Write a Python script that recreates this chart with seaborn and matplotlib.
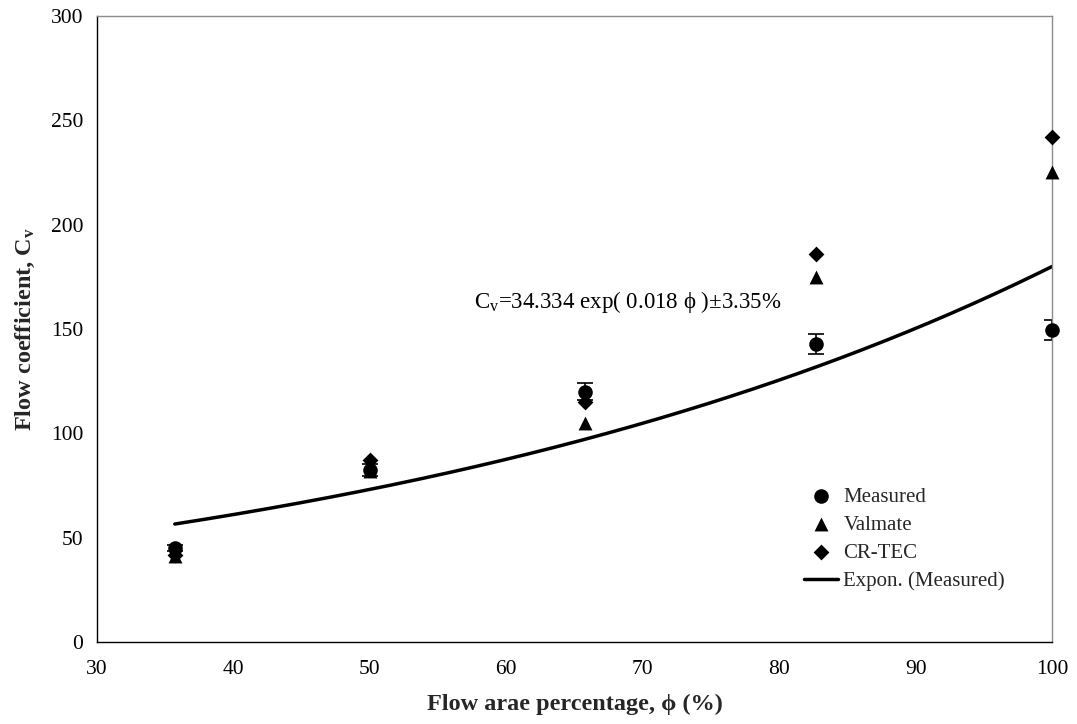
import numpy as np
import pandas as pd
import matplotlib
matplotlib.use("Agg")
import matplotlib.pyplot as plt
import seaborn as sns

# Flow area percentage and flow coefficients for each source
phi = [35.7, 50.0, 65.8, 82.7, 100.0]
measured = [45.0, 82.5, 120.0, 143.0, 149.5]
valmate = [41.0, 82.0, 105.0, 175.0, 225.0]
cr_tec = [41.5, 87.0, 115.0, 186.0, 242.0]
uncertainty_pct = 3.35

x_ticks = [30, 40, 50, 60, 70, 80, 90, 100]
y_ticks = [0, 50, 100, 150, 200, 250, 300]

sns.set_theme(style="white")
plt.rcParams["font.family"] = ["Liberation Serif", "DejaVu Serif"]
plt.rcParams["mathtext.fontset"] = "custom"
plt.rcParams["mathtext.rm"] = "Liberation Serif"
plt.rcParams["mathtext.it"] = "Liberation Serif:italic"
plt.rcParams["mathtext.bf"] = "Liberation Serif:bold"

df = pd.DataFrame({
    "phi": phi * 3,
    "Cv": measured + valmate + cr_tec,
    "source": ["Measured"] * 5 + ["Valmate"] * 5 + ["CR-TEC"] * 5,
})

fig = plt.figure(figsize=(10.77, 7.24), dpi=100)
ax = fig.add_axes([0.0901, 0.1133, 0.8867, 0.8646])

# Error bars on the measured values
meas = np.array(measured)
ax.errorbar(phi, meas, yerr=meas * uncertainty_pct / 100, fmt="none",
            ecolor="black", elinewidth=1.2, capsize=6, capthick=1.2, zorder=2)

# Exponential trend line fitted to the measured data
b, ln_a = np.polyfit(phi, np.log(meas), 1)
xs = np.linspace(min(phi), max(phi), 200)
fit = pd.DataFrame({"phi": xs, "Cv": np.exp(ln_a) * np.exp(b * xs)})

markers = {"Measured": "o", "Valmate": "^", "CR-TEC": "D"}
sizes = {"Measured": 110, "Valmate": 100, "CR-TEC": 65}
for name in ["Measured", "Valmate", "CR-TEC"]:
    sns.scatterplot(data=df[df.source == name], x="phi", y="Cv",
                    marker=markers[name], s=sizes[name], color="black",
                    edgecolor="black", linewidth=0, label=name, ax=ax,
                    zorder=3, clip_on=False)
sns.lineplot(data=fit, x="phi", y="Cv", color="black", linewidth=2.5,
             label="Expon. (Measured)", ax=ax, zorder=2)

ax.set_xlim(30, 100)
ax.set_ylim(0, 300)
ax.set_xticks(x_ticks)
ax.set_yticks(y_ticks)
ax.tick_params(axis="both", labelsize=15.5, direction="out", width=1,
               colors="black")
ax.tick_params(axis="x", length=4, pad=9)
ax.tick_params(axis="y", length=5, pad=5)
for side in ["left", "bottom"]:
    ax.spines[side].set_color("black")
    ax.spines[side].set_linewidth(1.0)
for side in ["top", "right"]:
    ax.spines[side].set_color("#8c8c8c")
    ax.spines[side].set_linewidth(1.0)

ax.set_xlabel("Flow arae percentage, ϕ (%)", fontsize=17.5, fontweight="bold",
              labelpad=11)
ax.set_ylabel(r"Flow coefficient, C$_\mathbf{v}$", fontsize=17.5,
              fontweight="bold", labelpad=10)

ax.text(57.6, 163, r"C$_\mathrm{v}$=34.334 exp( 0.018 ϕ )±3.35%",
        fontsize=16.5, ha="left", va="center", color="black")

leg = ax.legend(loc="upper left", bbox_to_anchor=(0.740, 0.247),
                frameon=False, fontsize=15, handlelength=1.65,
                handletextpad=0.25, labelspacing=0.4, borderpad=0,
                borderaxespad=0)

fig.savefig("out.png", dpi=100)
